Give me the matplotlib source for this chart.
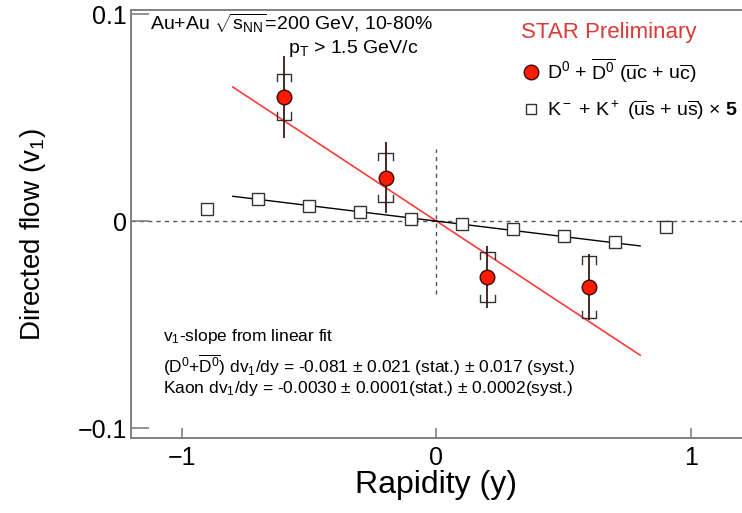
import numpy as np
import matplotlib
matplotlib.use('Agg')
import matplotlib.pyplot as plt
from matplotlib.lines import Line2D

plt.rcParams['font.family'] = ['Liberation Sans', 'DejaVu Sans']
plt.rcParams['mathtext.fontset'] = 'custom'
plt.rcParams['mathtext.rm'] = 'Liberation Sans'
plt.rcParams['mathtext.it'] = 'Liberation Sans:italic'
plt.rcParams['mathtext.bf'] = 'Liberation Sans:bold'

# D0 + D0bar v1 vs rapidity
d0_y = [-0.6, -0.2, 0.2, 0.6]
d0_v1 = [0.060, 0.021, -0.027, -0.032]
d0_stat = [0.020, 0.017, 0.015, 0.016]
d0_syst = [0.011, 0.012, 0.012, 0.015]

# kaons (K- + K+), plotted scaled x5
kaon_y = [-0.9, -0.7, -0.5, -0.3, -0.1, 0.1, 0.3, 0.5, 0.7, 0.9]
kaon_v1 = [0.00116, 0.00214, 0.00148, 0.00088, 0.00020,
           -0.00030, -0.00078, -0.00142, -0.00200, -0.00056]
kaon_scale = 5

# linear fits
d0_slope = -0.081
kaon_slope = -0.0030
fit_range = [-0.8, 0.8]

fig = plt.figure(figsize=(7.42, 5.13), dpi=100)
ax = fig.add_axes([0.1765, 0.1462, 0.8235, 0.8343])
ax.set_xlim(-1.2, 1.2)
ax.set_ylim(-0.1048, 0.102)

# reference lines
ax.axhline(0, color='#555555', lw=1.0, ls=(0, (3, 3)), zorder=1)
ax.plot([0, 0], [-0.035, 0.035], color='#555555', lw=1.0, ls=(0, (3, 3)), zorder=1)

# fit lines
fx = np.array(fit_range)
ax.plot(fx, d0_slope * fx, color='#ff3b3b', lw=1.2, zorder=2)
ax.plot(fx, kaon_slope * kaon_scale * fx, color='black', lw=1.0, zorder=2)

# kaon points
kv = np.array(kaon_v1) * kaon_scale
ax.plot(kaon_y, kv, ls='none', marker='s', ms=8.5, mfc='white', mec='#333333', mew=1.0, zorder=3)

# D0 systematic brackets
hw = 0.028
tick = 0.0035
for x, v, s in zip(d0_y, d0_v1, d0_syst):
    top = v + s
    bot = v - s
    ax.plot([x - hw, x - hw, x + hw, x + hw], [top - tick, top, top, top - tick], color='#333333', lw=1.0, zorder=3)
    ax.plot([x - hw, x - hw, x + hw, x + hw], [bot + tick, bot, bot, bot + tick], color='#333333', lw=1.0, zorder=3)

# D0 stat errors + points
ax.errorbar(d0_y, d0_v1, yerr=d0_stat, fmt='o', ms=10.5, mfc='#ff1a00', mec='#3a0a0a', mew=1.0,
            ecolor='#3a1818', elinewidth=1.3, capsize=0, zorder=4)

# axes styling
for side in ['left', 'bottom', 'top']:
    ax.spines[side].set_color('#808080')
    ax.spines[side].set_linewidth(1.4)
ax.spines['right'].set_visible(False)
ax.set_xticks([-1, 0, 1])
ax.set_xticklabels(['\u22121', '0', '1'])
ax.set_yticks([-0.1, 0, 0.1])
ax.set_yticklabels(['\u22120.1', '0', '0.1'])
ax.tick_params(axis='y', direction='in', length=13, width=1.2, color='#808080', labelsize=18, pad=3)
ax.tick_params(axis='x', direction='in', length=7, width=1.2, color='#808080', labelsize=18, pad=6)

ax.set_xlabel('Rapidity (y)', fontsize=23)
ax.xaxis.set_label_coords(0.5, -0.075)
ax.set_ylabel('Directed flow (v$_{\\rm 1}$)', fontsize=20)
ax.yaxis.set_label_coords(-0.135, 0.475)

# annotations
ax.text(0.031, 0.968, 'Au+Au $\\sqrt{{\\rm s}_{\\rm NN}}$=200 GeV, 10-80%', transform=ax.transAxes,
        fontsize=14, va='center', ha='left')
ax.text(0.257, 0.91, 'p$_{\\rm T}$ > 1.5 GeV/c', transform=ax.transAxes,
        fontsize=14, va='center', ha='left')

ax.text(0.052, 0.236, 'v$_{\\rm 1}$-slope from linear fit', transform=ax.transAxes,
        fontsize=12.5, va='center', ha='left')
ax.text(0.052, 0.171, '(D$^{\\rm 0}$+$\\overline{\\rm D^{0}}$) dv$_{\\rm 1}$/dy = -0.081 \u00b1 0.021 (stat.) \u00b1 0.017 (syst.)',
        transform=ax.transAxes, fontsize=12.5, va='center', ha='left')
ax.text(0.052, 0.115, 'Kaon dv$_{\\rm 1}$/dy = -0.0030 \u00b1 0.0001(stat.) \u00b1 0.0002(syst.)',
        transform=ax.transAxes, fontsize=12.5, va='center', ha='left')

# legend
h1 = Line2D([], [], ls='none', marker='o', ms=10.5, mfc='#ff1a00', mec='#3a0a0a', mew=1.0)
h2 = Line2D([], [], ls='none', marker='s', ms=7, mfc='white', mec='#333333', mew=1.0)
leg = ax.legend([h1, h2],
                ['D$^{\\rm 0}$ + $\\overline{\\rm D^{0}}$ ($\\overline{\\rm u}$c + u$\\overline{\\rm c}$)',
                 'K$^{\\rm -}$ + K$^{\\rm +}$ ($\\overline{\\rm u}$s + u$\\overline{\\rm s}$) \u00d7 $\\mathbf{5}$'],
                title='STAR Preliminary', loc='upper left', bbox_to_anchor=(0.62, 1.0),
                frameon=False, fontsize=14, handletextpad=0.3, handlelength=1.0,
                labelspacing=0.7, borderaxespad=0.2)
leg.get_title().set_color('#d93a3a')
leg.get_title().set_fontsize(16)
leg._legend_box.align = 'left'

fig.savefig('out.png', dpi=100)
